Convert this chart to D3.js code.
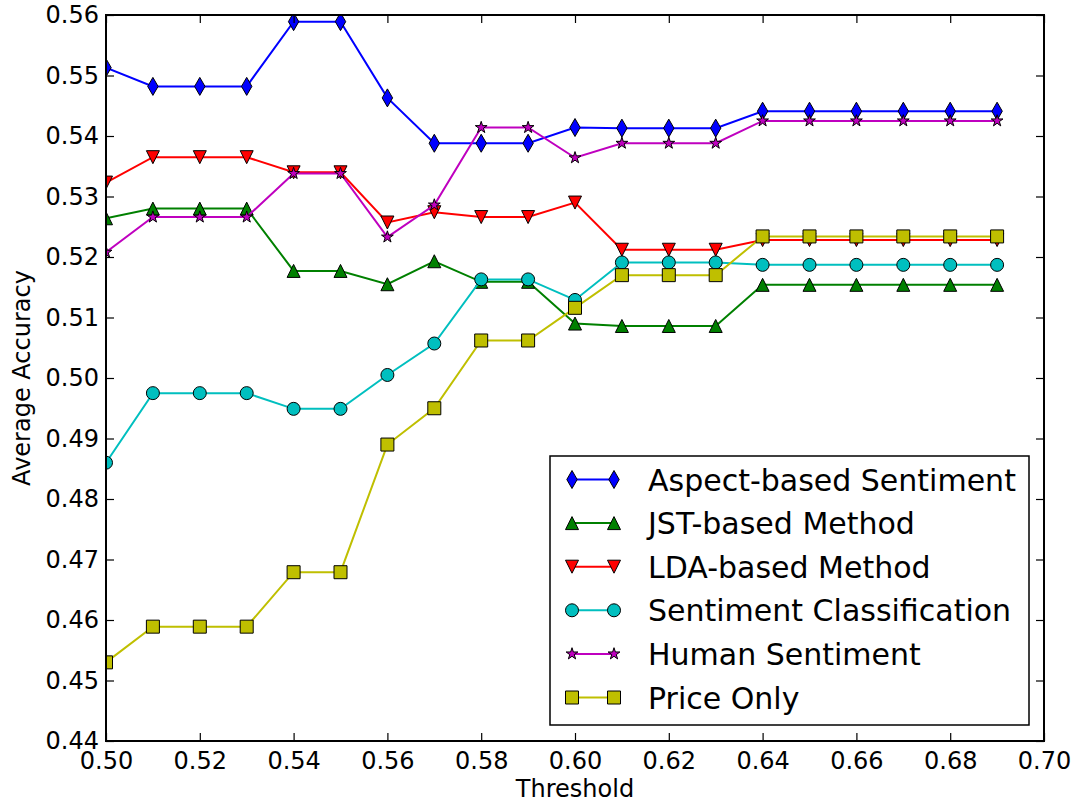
<!DOCTYPE html>
<html>
<head>
<meta charset="utf-8">
<script src="https://cdn.jsdelivr.net/npm/d3@7"></script>
<style>
  body { margin: 0; background: #fff; }
  svg { display: block; font-family: "DejaVu Sans", sans-serif; }
</style>
</head>
<body>
<div id="chart"></div>
<script>
// thresholds on the x axis
var thresholds = [0.50, 0.51, 0.52, 0.53, 0.54, 0.55, 0.56, 0.57, 0.58, 0.59,
                  0.60, 0.61, 0.62, 0.63, 0.64, 0.65, 0.66, 0.67, 0.68, 0.69];

var aspectBased = [0.5513, 0.5482, 0.5482, 0.5482, 0.5589, 0.5589, 0.5463, 0.5388, 0.5388, 0.5388,
                   0.5414, 0.5413, 0.5413, 0.5413, 0.5441, 0.5441, 0.5441, 0.5441, 0.5441, 0.5441];
var jstBased = [0.5264, 0.5280, 0.5280, 0.5280, 0.5177, 0.5177, 0.5155, 0.5193, 0.5159, 0.5159,
                0.5090, 0.5086, 0.5086, 0.5086, 0.5154, 0.5154, 0.5154, 0.5154, 0.5154, 0.5154];
var ldaBased = [0.5323, 0.5365, 0.5365, 0.5365, 0.5340, 0.5340, 0.5257, 0.5274, 0.5266, 0.5266,
                0.5290, 0.5212, 0.5212, 0.5212, 0.5228, 0.5228, 0.5228, 0.5228, 0.5228, 0.5228];
var sentimentClass = [0.4860, 0.4975, 0.4975, 0.4975, 0.4949, 0.4949, 0.5005, 0.5057, 0.5163, 0.5163,
                      0.5129, 0.5191, 0.5191, 0.5191, 0.5187, 0.5187, 0.5187, 0.5187, 0.5187, 0.5187];
var humanSentiment = [0.5208, 0.5266, 0.5266, 0.5266, 0.5338, 0.5338, 0.5233, 0.5286, 0.5414, 0.5414,
                      0.5364, 0.5388, 0.5388, 0.5388, 0.5425, 0.5425, 0.5425, 0.5425, 0.5425, 0.5425];
var priceOnly = [0.4530, 0.4589, 0.4589, 0.4589, 0.4679, 0.4679, 0.4890, 0.4950, 0.5062, 0.5062,
                 0.5116, 0.5170, 0.5170, 0.5170, 0.5234, 0.5234, 0.5234, 0.5234, 0.5234, 0.5234];

var seriesNames = ["Aspect-based Sentiment", "JST-based Method", "LDA-based Method",
                   "Sentiment Classification", "Human Sentiment", "Price Only"];

var xTicks = [0.50, 0.52, 0.54, 0.56, 0.58, 0.60, 0.62, 0.64, 0.66, 0.68, 0.70];
var yTicks = [0.44, 0.45, 0.46, 0.47, 0.48, 0.49, 0.50, 0.51, 0.52, 0.53, 0.54, 0.55, 0.56];

var series = [
  {name: seriesNames[0], values: aspectBased,    color: "#0000ff", marker: "thin_diamond"},
  {name: seriesNames[1], values: jstBased,       color: "#008000", marker: "triangle_up"},
  {name: seriesNames[2], values: ldaBased,       color: "#ff0000", marker: "triangle_down"},
  {name: seriesNames[3], values: sentimentClass, color: "#00bfbf", marker: "circle"},
  {name: seriesNames[4], values: humanSentiment, color: "#bf00bf", marker: "star"},
  {name: seriesNames[5], values: priceOnly,      color: "#bfbf00", marker: "square"}
];

var W = 1076, H = 805;
var margin = {top: 15, right: 32, bottom: 64, left: 106};
var width = W - margin.left - margin.right,
    height = H - margin.top - margin.bottom;

var svg = d3.select("#chart").append("svg")
    .attr("width", W)
    .attr("height", H);

var g = svg.append("g")
    .attr("transform", "translate(" + margin.left + "," + margin.top + ")");

var x = d3.scaleLinear().domain([0.50, 0.70]).range([0, width]);
var y = d3.scaleLinear().domain([0.44, 0.56]).range([height, 0]);

// marker shapes, roughly matplotlib's
function markerPath(type) {
  var r = 6.5;
  if (type == "circle") return circlePath(r);
  if (type == "square") return "M" + (-r) + "," + (-r) + "H" + r + "V" + r + "H" + (-r) + "Z";
  if (type == "triangle_up") return "M0," + (-r) + "L" + r + "," + r + "L" + (-r) + "," + r + "Z";
  if (type == "triangle_down") return "M0," + r + "L" + r + "," + (-r) + "L" + (-r) + "," + (-r) + "Z";
  if (type == "thin_diamond") return "M0,-9L5.2,0L0,9L-5.2,0Z";
  if (type == "star") {
    var pts = [], R = 6.2, ri = R * 0.382;
    for (var i = 0; i < 10; i++) {
      var a = -Math.PI / 2 + i * Math.PI / 5;
      var rr = i % 2 == 0 ? R : ri;
      pts.push([rr * Math.cos(a), rr * Math.sin(a)]);
    }
    return "M" + pts.map(function(p) { return p[0].toFixed(2) + "," + p[1].toFixed(2); }).join("L") + "Z";
  }
  return "";
}
function circlePath(r) {
  var p = d3.path();
  p.arc(0, 0, r, 0, 2 * Math.PI);
  p.closePath();
  return p.toString();
}

svg.append("defs").append("clipPath").attr("id", "plotclip")
  .append("rect").attr("width", width).attr("height", height);

var plot = g.append("g").attr("clip-path", "url(#plotclip)");

var line = d3.line()
    .x(function(d, i) { return x(thresholds[i]); })
    .y(function(d) { return y(d); });

series.forEach(function(s) {
  plot.append("path")
      .attr("d", line(s.values))
      .attr("fill", "none")
      .attr("stroke", s.color)
      .attr("stroke-width", 2);
  plot.selectAll(null)
      .data(s.values)
      .enter().append("path")
      .attr("d", markerPath(s.marker))
      .attr("transform", function(d, i) { return "translate(" + x(thresholds[i]) + "," + y(d) + ")"; })
      .attr("fill", s.color)
      .attr("stroke", "#000")
      .attr("stroke-width", 1);
});

// axes, ticks pointing inward
var tickLen = 8;
g.append("g")
    .attr("transform", "translate(0," + height + ")")
    .call(d3.axisBottom(x).tickValues(xTicks).tickFormat(d3.format(".2f"))
      .tickSizeInner(-tickLen).tickSizeOuter(0).tickPadding(11));
g.append("g")
    .call(d3.axisTop(x).tickValues(xTicks).tickFormat("")
      .tickSizeInner(-tickLen).tickSizeOuter(0));
g.append("g")
    .call(d3.axisLeft(y).tickValues(yTicks).tickFormat(d3.format(".2f"))
      .tickSizeInner(-tickLen).tickSizeOuter(0).tickPadding(7));
g.append("g")
    .attr("transform", "translate(" + width + ",0)")
    .call(d3.axisRight(y).tickValues(yTicks).tickFormat("")
      .tickSizeInner(-tickLen).tickSizeOuter(0));

g.selectAll(".domain").remove();
g.selectAll(".tick line").attr("stroke", "#000").attr("stroke-width", 1.2);
g.selectAll(".tick text")
    .attr("fill", "#000")
    .style("font-size", "24px")
    .style("font-family", "DejaVu Sans, sans-serif");

g.append("rect")
    .attr("width", width)
    .attr("height", height)
    .attr("fill", "none")
    .attr("stroke", "#000")
    .attr("stroke-width", 2);

g.append("text")
    .attr("x", width / 2)
    .attr("y", height + 56)
    .attr("text-anchor", "middle")
    .style("font-size", "24px")
    .text("Threshold");

g.append("text")
    .attr("transform", "translate(" + (-margin.left + 30) + "," + (height / 2) + ") rotate(-90)")
    .attr("text-anchor", "middle")
    .style("font-size", "24px")
    .text("Average Accuracy");

// legend
var legend = svg.append("g").attr("transform", "translate(550,456)");
legend.append("rect")
    .attr("width", 479)
    .attr("height", 269)
    .attr("fill", "#fff")
    .attr("stroke", "#000")
    .attr("stroke-width", 1.5);

var rowH = 43.6;
series.forEach(function(s, i) {
  var ry = 23.5 + i * rowH;
  var row = legend.append("g").attr("transform", "translate(0," + ry + ")");
  row.append("line")
      .attr("x1", 22).attr("x2", 64)
      .attr("stroke", s.color).attr("stroke-width", 2);
  [22, 64].forEach(function(mx) {
    row.append("path")
        .attr("d", markerPath(s.marker))
        .attr("transform", "translate(" + mx + ",0)")
        .attr("fill", s.color)
        .attr("stroke", "#000")
        .attr("stroke-width", 1);
  });
  row.append("text")
      .attr("x", 98)
      .attr("y", 11)
      .style("font-size", "30px")
      .text(s.name);
});
</script>
</body>
</html>
